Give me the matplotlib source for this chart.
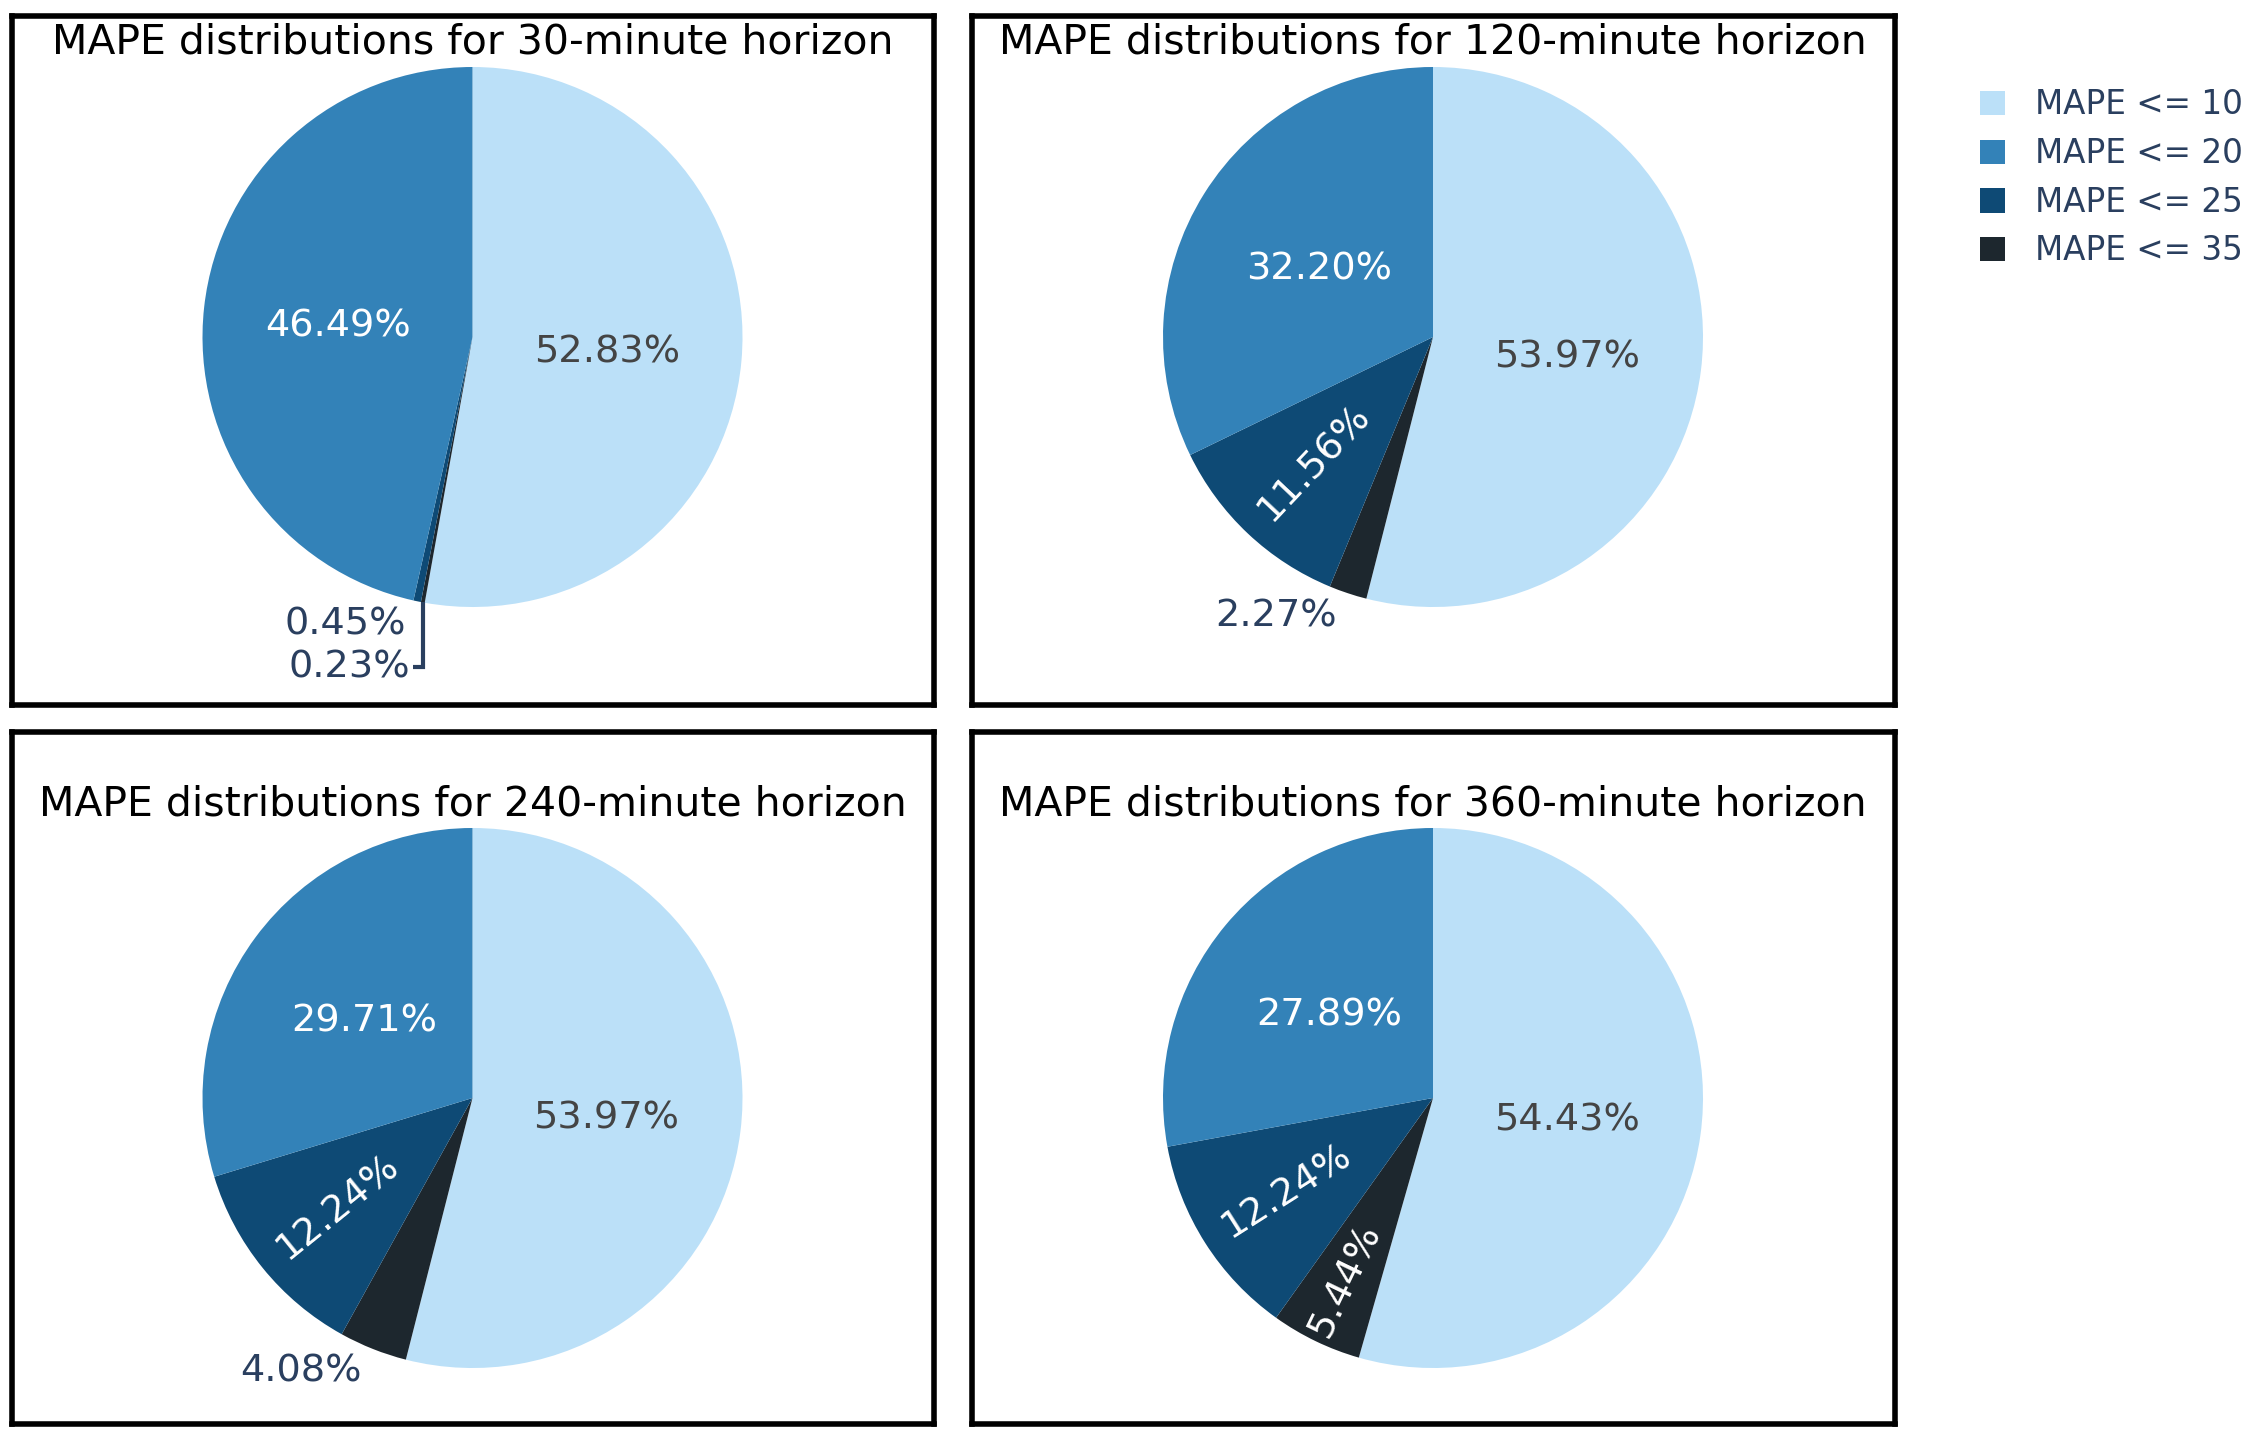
import numpy as np
import matplotlib.pyplot as plt

W, H = 2250, 1443

categories = ['MAPE <= 10', 'MAPE <= 20', 'MAPE <= 25', 'MAPE <= 35']
colors = ['#bbe0f8', '#3382b8', '#0e4a75', '#1d272e']
horizons = ['30', '120', '240', '360']

share_30 = [52.83, 46.49, 0.45, 0.23]
share_120 = [53.97, 32.20, 11.56, 2.27]
share_240 = [53.97, 29.71, 12.24, 4.08]
share_360 = [54.43, 27.89, 12.24, 5.44]
shares = [share_30, share_120, share_240, share_360]

# layout in image pixels: box (left, right, top, bottom), pie centre, title baseline
boxes = [(12, 933.5, 16, 704.5), (971.5, 1894.5, 16, 704.5),
         (12, 933.5, 731.5, 1423.5), (971.5, 1894.5, 731.5, 1423.5)]
centres = [(472.5, 337), (1433, 337), (472.5, 1098), (1433, 1098)]
title_y = [53, 53, 815, 815]
R = 270
draw_order = [0, 3, 2, 1]  # clockwise from 12 o'clock

plt.rcParams['font.family'] = 'DejaVu Sans'
fig = plt.figure(figsize=(W / 100, H / 100), dpi=100)

legend_handles = None
for k in range(4):
    l, r, t, b = boxes[k]
    ax = fig.add_axes([l / W, 1 - b / H, (r - l) / W, (b - t) / H])
    cx, cy = centres[k][0], H - centres[k][1]
    vals = [shares[k][i] for i in draw_order]
    cols = [colors[i] for i in draw_order]
    wedges, _ = ax.pie(vals, colors=cols, startangle=90, counterclock=False,
                       center=(cx, cy), radius=R, frame=True,
                       wedgeprops=dict(linewidth=0))
    ax.set_xlim(l, r)
    ax.set_ylim(H - b, H - t)
    ax.set_aspect('auto')
    ax.set_xticks([])
    ax.set_yticks([])
    for s in ax.spines.values():
        s.set_linewidth(4)
        s.set_color('black')
    if legend_handles is None:
        legend_handles = [wedges[draw_order.index(i)] for i in range(4)]

    ax.text((l + r) / 2, H - title_y[k], f'MAPE distributions for {horizons[k]}-minute horizon',
            ha='center', va='baseline', fontsize=29.5, color='black')

    total = sum(vals)
    outside = []
    for w, v, ci in zip(wedges, vals, draw_order):
        mid = np.deg2rad((w.theta1 + w.theta2) / 2)
        frac = v / total
        txt = f'{v:.2f}%'
        if frac >= 0.2:
            rr = 0.5 * R
            ax.text(cx + rr * np.cos(mid), cy + rr * np.sin(mid) - 4, txt, ha='center', va='center',
                    fontsize=27.5, color='#444444' if ci == 0 else 'white')
        elif frac >= 0.05:
            rr = (0.64 if frac > 0.1 else 0.75) * R
            rot = np.rad2deg(mid) - 180
            ax.text(cx + rr * np.cos(mid), cy + rr * np.sin(mid), txt, ha='center', va='center',
                    rotation=rot, rotation_mode='anchor', fontsize=27.5, color='white')
        else:
            outside.append((cy + R * np.sin(mid), cx + R * np.cos(mid), txt))

    outside.sort(reverse=True)
    prev_yc = None
    for ey, ex, txt in outside:
        yc = ey - 6 - 17
        if prev_yc is not None and yc > prev_yc - 43:
            yc = prev_yc - 43
            ax.plot([ex, ex, ex - 10], [ey, yc, yc], color='#2a3f5f', lw=3,
                    solid_joinstyle='miter', solid_capstyle='butt')
            ax.text(ex - 13, yc, txt, ha='right', va='center', fontsize=27.5, color='#2a3f5f')
        else:
            ax.text(ex - 11, yc, txt, ha='right', va='center', fontsize=27.5, color='#2a3f5f')
        prev_yc = yc

fig.legend(legend_handles, categories, loc='upper left', bbox_to_anchor=(1980 / W, 1 - 88.5 / H),
           frameon=False, fontsize=23.5, handlelength=0.77, handleheight=0.77,
           handletextpad=0.92, labelspacing=0.48, borderpad=0, borderaxespad=0,
           labelcolor='#2a3f5f')

fig.savefig('out.png', dpi=100)
